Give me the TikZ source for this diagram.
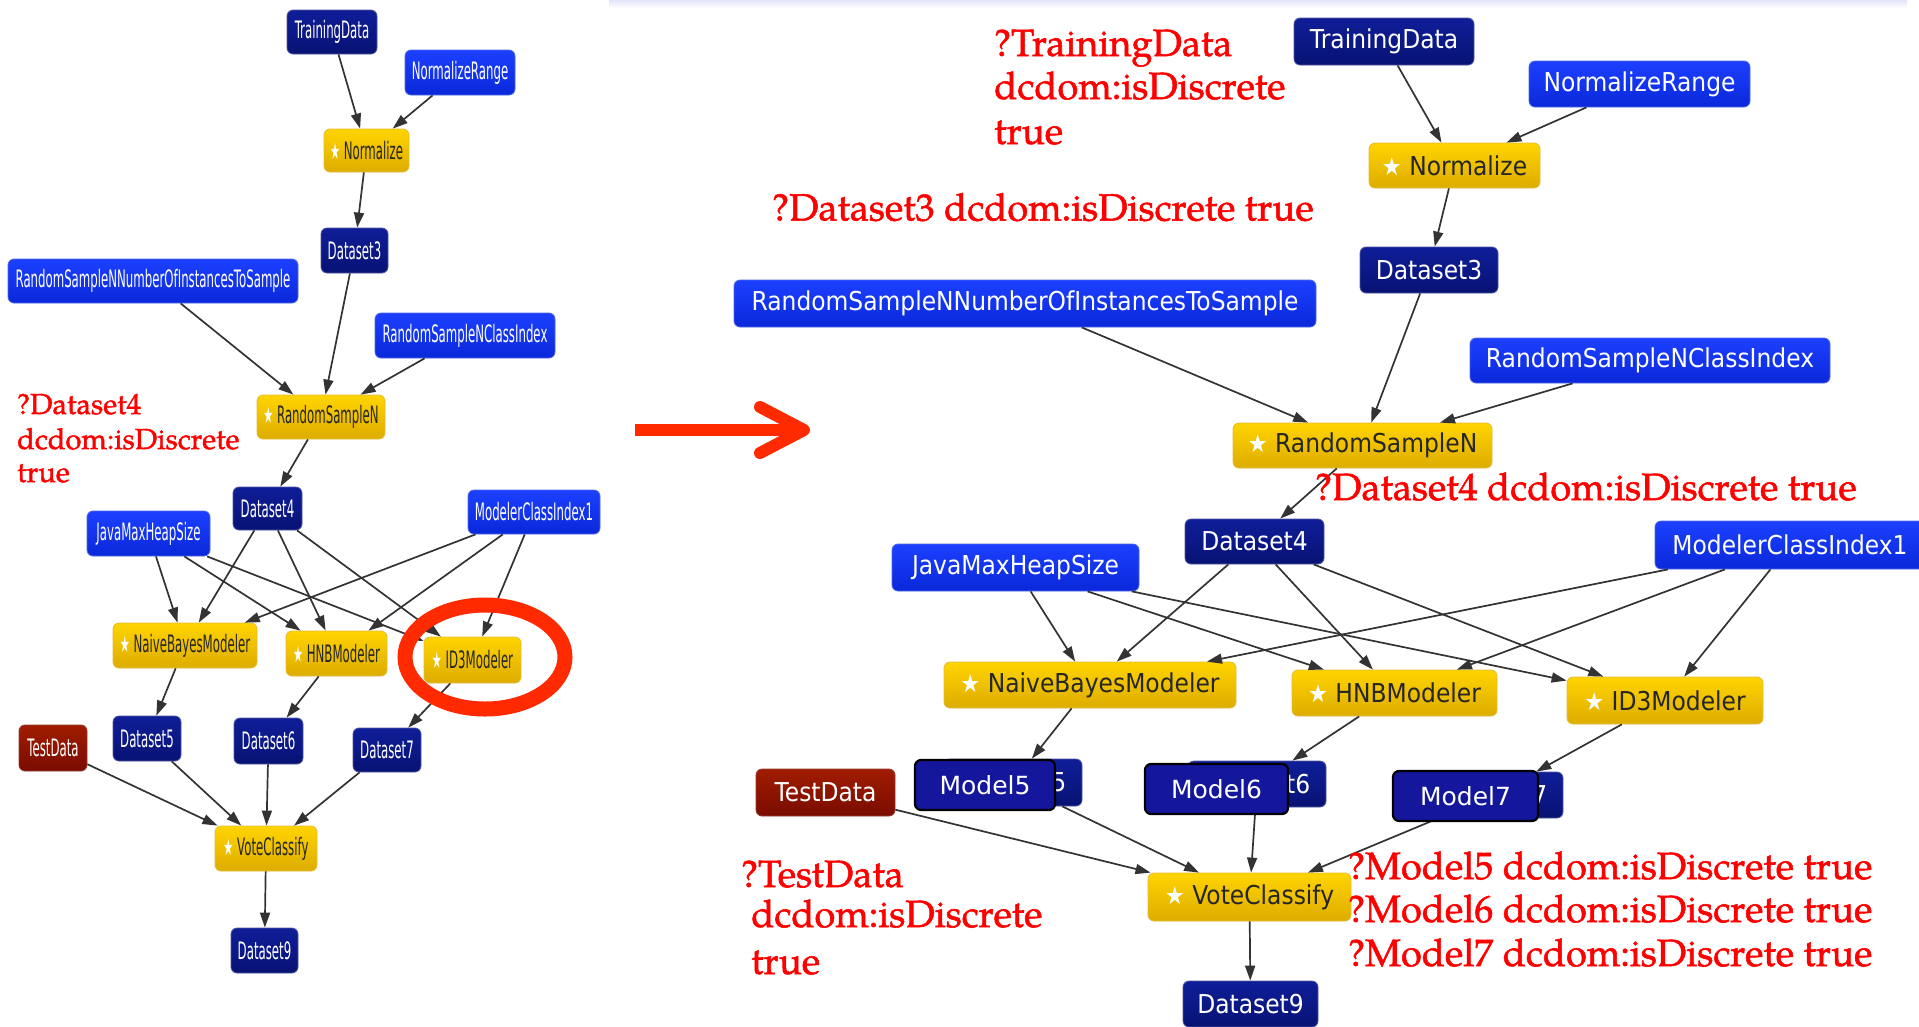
\documentclass[tikz,border=0pt]{standalone}
\usepackage{fontspec}
\usepackage{graphicx}
\usetikzlibrary{arrows.meta}

\newfontfamily\lfont{DejaVu Sans}[FakeStretch=0.49]
\newfontfamily\rfont{DejaVu Sans}[FakeStretch=0.9]
\newfontfamily\mfont{DejaVu Sans}
\newfontfamily\notefont{TeX Gyre Pagella}[FakeBold=1.4]

\definecolor{navyT}{HTML}{0F1E98}
\definecolor{navyB}{HTML}{081274}
\definecolor{blueT}{HTML}{1C40FF}
\definecolor{blueB}{HTML}{0A28DA}
\definecolor{goldT}{HTML}{FFD400}
\definecolor{goldB}{HTML}{DDAC00}
\definecolor{redT}{HTML}{A01C00}
\definecolor{redB}{HTML}{7A0C00}
\definecolor{modelfill}{HTML}{14179C}
\definecolor{notered}{HTML}{FF0000}
\definecolor{markred}{HTML}{FF2A00}
\definecolor{stripe}{HTML}{E2E5F8}

% small white star shown in front of component names
\newcommand\opstar{\scalebox{0.95}{\textcolor{white}{★}}}

\begin{document}
\begin{tikzpicture}[x=1pt, y=-1pt,
  gnode/.style={rectangle, rounded corners=6pt, inner sep=0pt, align=center},
  datan/.style={gnode, top color=navyT, bottom color=navyB, draw=navyB!70!white, line width=0.8pt, text=white},
  paramn/.style={gnode, top color=blueT, bottom color=blueB, draw=blueB!70!white, line width=0.8pt, text=white},
  compn/.style={gnode, top color=goldT, bottom color=goldB, draw=goldB!80!white, line width=0.8pt, text=black!85},
  inputn/.style={gnode, top color=redT, bottom color=redB, draw=redB!80!white, line width=0.8pt, text=white},
  modeln/.style={rectangle, rounded corners=6pt, inner sep=0pt, fill=modelfill, draw=black, line width=2.2pt, text=white, font=\mfont\fontsize{25}{25}\selectfont},
  lft/.style={font=\lfont\fontsize{24}{24}\selectfont},
  rgt/.style={font=\rfont\fontsize{26}{26}\selectfont},
  link/.style={draw=black!80, line width=1.7pt, -{Triangle[length=15pt,width=10pt]}},
  lnote/.style={anchor=base west, inner sep=0pt, text=notered, font=\notefont\fontsize{29}{34}\selectfont},
  rnote/.style={anchor=base west, inner sep=0pt, text=notered, font=\notefont\fontsize{38}{44}\selectfont},
  bigarrow/.style={draw=markred, line width=12pt},
  ring/.style={draw=markred, line width=15pt}
]
\useasboundingbox (0,0) rectangle (1919,1026);
\clip (0,0) rectangle (1919,1026);
\fill[white] (0,0) rectangle (1919,1026);

% thin header band of the right-hand window
\fill[top color=stripe, bottom color=white] (609,0) rectangle (1907,8);

% ---------------- left workflow ----------------
\node[datan,  lft, minimum width=90pt,  minimum height=44pt] (l-TD)   at (332,32)      {TrainingData};
\node[paramn, lft, minimum width=110pt, minimum height=45pt] (l-NR)   at (460,72.5)    {NormalizeRange};
\node[compn,  lft, minimum width=85pt,  minimum height=43pt] (l-Norm) at (366.5,150.5) {\opstar\ Normalize};
\node[datan,  lft, minimum width=67pt,  minimum height=45pt] (l-D3)   at (354.5,250.5) {Dataset3};
\node[paramn, lft, minimum width=290pt, minimum height=44pt] (l-RSNN) at (153,281)     {RandomSampleNNumberOfInstancesToSample};
\node[paramn, lft, minimum width=180pt, minimum height=45pt] (l-RSCI) at (465,335.5)   {RandomSampleNClassIndex};
\node[compn,  lft, minimum width=128pt, minimum height=44pt] (l-RSN)  at (321,417)     {\opstar\ RandomSampleN};
\node[datan,  lft, minimum width=69pt,  minimum height=43pt] (l-D4)   at (267.5,508.5) {Dataset4};
\node[paramn, lft, minimum width=123pt, minimum height=45pt] (l-Java) at (148.5,533.5) {JavaMaxHeapSize};
\node[paramn, lft, minimum width=132pt, minimum height=44pt] (l-MCI)  at (534,512)     {ModelerClassIndex1};
\node[compn,  lft, minimum width=144pt, minimum height=45pt] (l-NBM)  at (185,645.5)   {\opstar\ NaiveBayesModeler};
\node[compn,  lft, minimum width=101pt, minimum height=45pt] (l-HNB)  at (336.5,653.5) {\opstar\ HNBModeler};
\node[compn,  lft, minimum width=97pt,  minimum height=46pt] (l-ID3)  at (472.5,660)   {\opstar\ ID3Modeler};
\node[inputn, lft, minimum width=68pt,  minimum height=46pt] (l-Test) at (53,748)      {TestData};
\node[datan,  lft, minimum width=68pt,  minimum height=45pt] (l-D5)   at (147,738.5)   {Dataset5};
\node[datan,  lft, minimum width=69pt,  minimum height=46pt] (l-D6)   at (268.5,741)   {Dataset6};
\node[datan,  lft, minimum width=68pt,  minimum height=44pt] (l-D7)   at (387,750)     {Dataset7};
\node[compn,  lft, minimum width=102pt, minimum height=45pt] (l-Vote) at (266,848.5)   {\opstar\ VoteClassify};
\node[datan,  lft, minimum width=67pt,  minimum height=45pt] (l-D9)   at (264.5,950.5) {Dataset9};

% ---------------- right workflow ----------------
\node[datan,  rgt, minimum width=180pt, minimum height=47pt] (r-TD)   at (1384,41.5)   {TrainingData};
\node[paramn, rgt, minimum width=221pt, minimum height=46pt] (r-NR)   at (1639.5,84)   {NormalizeRange};
\node[compn,  rgt, minimum width=171pt, minimum height=45pt] (r-Norm) at (1454.5,165.5) {\opstar\ Normalize};
\node[datan,  rgt, minimum width=138pt, minimum height=46pt] (r-D3)   at (1429,270)    {Dataset3};
\node[paramn, rgt, minimum width=582pt, minimum height=47pt] (r-RSNN) at (1025,303.5)  {RandomSampleNNumberOfInstancesToSample};
\node[paramn, rgt, minimum width=360pt, minimum height=45pt] (r-RSCI) at (1650,360.5)  {RandomSampleNClassIndex};
\node[compn,  rgt, minimum width=259pt, minimum height=45pt] (r-RSN)  at (1362.5,445.5) {\opstar\ RandomSampleN};
\node[datan,  rgt, minimum width=139pt, minimum height=45pt] (r-D4)   at (1254.5,541.5) {Dataset4};
\node[paramn, rgt, minimum width=247pt, minimum height=47pt] (r-Java) at (1015.5,567.5) {JavaMaxHeapSize};
\node[paramn, rgt, minimum width=270pt, minimum height=48pt] (r-MCI)  at (1790,545)    {ModelerClassIndex1};
\node[compn,  rgt, minimum width=292pt, minimum height=46pt] (r-NBM)  at (1090,685)    {\opstar\ NaiveBayesModeler};
\node[compn,  rgt, minimum width=205pt, minimum height=46pt] (r-HNB)  at (1394.5,693)  {\opstar\ HNBModeler};
\node[compn,  rgt, minimum width=196pt, minimum height=47pt] (r-ID3)  at (1665,700.5)  {\opstar\ ID3Modeler};
\node[inputn, rgt, minimum width=139pt, minimum height=47pt] (r-Test) at (825.5,792.5) {TestData};
\node[datan,  rgt, minimum width=138pt, minimum height=47pt] (r-D5)   at (1013,782.5)  {Dataset5};
\node[datan,  rgt, minimum width=138pt, minimum height=46pt] (r-D6)   at (1257,784)    {Dataset6};
\node[datan,  rgt, minimum width=138pt, minimum height=46pt] (r-D7)   at (1494,795)    {Dataset7};
\node[compn,  rgt, minimum width=203pt, minimum height=48pt] (r-Vote) at (1249.5,897)  {\opstar\ VoteClassify};
\node[datan,  rgt, minimum width=135pt, minimum height=46pt] (r-D9)   at (1250.5,1004) {Dataset9};

% ---------------- data flow (same in both workflows) ----------------
\foreach \p in {l,r} {
  \draw[link] (\p-TD)   -- (\p-Norm);
  \draw[link] (\p-NR)   -- (\p-Norm);
  \draw[link] (\p-Norm) -- (\p-D3);
  \draw[link] (\p-RSNN) -- (\p-RSN);
  \draw[link] (\p-D3)   -- (\p-RSN);
  \draw[link] (\p-RSCI) -- (\p-RSN);
  \draw[link] (\p-RSN)  -- (\p-D4);
  \draw[link] (\p-Java) -- (\p-NBM);
  \draw[link] (\p-Java) -- (\p-HNB);
  \draw[link] (\p-Java) -- (\p-ID3);
  \draw[link] (\p-D4)   -- (\p-NBM);
  \draw[link] (\p-D4)   -- (\p-HNB);
  \draw[link] (\p-D4)   -- (\p-ID3);
  \draw[link] (\p-MCI)  -- (\p-NBM);
  \draw[link] (\p-MCI)  -- (\p-HNB);
  \draw[link] (\p-MCI)  -- (\p-ID3);
  \draw[link] (\p-NBM)  -- (\p-D5);
  \draw[link] (\p-HNB)  -- (\p-D6);
  \draw[link] (\p-ID3)  -- (\p-D7);
  \draw[link] (\p-Test) -- (\p-Vote);
  \draw[link] (\p-D5)   -- (\p-Vote);
  \draw[link] (\p-D6)   -- (\p-Vote);
  \draw[link] (\p-D7)   -- (\p-Vote);
  \draw[link] (\p-Vote) -- (\p-D9);
}

% model labels laid over the modeler outputs
\node[modeln, minimum width=140pt, minimum height=50pt] (r-M5) at (985,785)    {Model5};
\node[modeln, minimum width=143pt, minimum height=50pt] (r-M6) at (1216.5,789) {Model6};
\node[modeln, minimum width=145pt, minimum height=50pt] (r-M7) at (1465.5,796) {Model7};

% ---------------- constraint annotations ----------------
\node[lnote] (ln1) at (17,414) {?Dataset4};
\node[lnote] (ln2) at (17,449) {dcdom:isDiscrete};
\node[lnote] (ln3) at (17,482) {true};

\node[rnote] (td1) at (994,56)  {?TrainingData};
\node[rnote] (td2) at (994,99)  {dcdom:isDiscrete};
\node[rnote] (td3) at (994,144) {true};

\node[rnote] (d3n) at (772,220.5) {?Dataset3 dcdom:isDiscrete true};
\node[rnote] (d4n) at (1315,500)  {?Dataset4 dcdom:isDiscrete true};

\node[rnote] (m5n) at (1348,879) {?Model5 dcdom:isDiscrete true};
\node[rnote] (m6n) at (1348,922) {?Model6 dcdom:isDiscrete true};
\node[rnote] (m7n) at (1348,966) {?Model7 dcdom:isDiscrete true};

\node[rnote] (ts1) at (741,887) {?TestData};
\node[rnote] (ts2) at (751,927) {dcdom:isDiscrete};
\node[rnote] (ts3) at (751,974) {true};

% ---------------- highlight ring and transition arrow ----------------
\draw[ring] (485,657) ellipse [x radius=80pt, y radius=52pt];

\coordinate (arrS) at (635,430);
\coordinate (arrE) at (800,430);
\coordinate (arrT) at (804,430);
\coordinate (arrU) at (760,407);
\coordinate (arrD) at (760,453);
\draw[bigarrow] (arrS) -- (arrE);
\draw[bigarrow, line cap=round, line join=round] (arrU) -- (arrT) -- (arrD);
\end{tikzpicture}
\end{document}
